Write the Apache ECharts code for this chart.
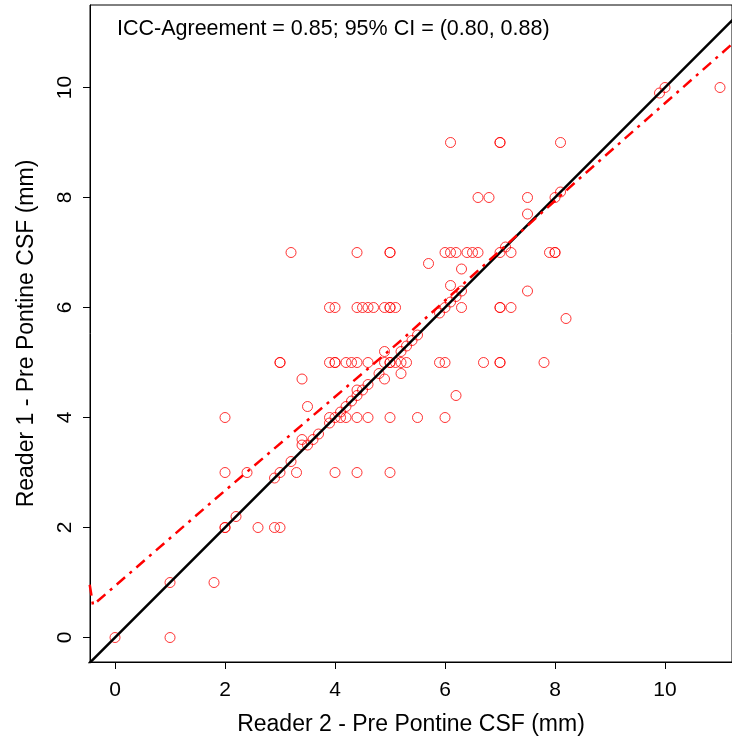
<!DOCTYPE html>
<html>
<head>
<meta charset="utf-8">
<script src="https://cdn.jsdelivr.net/npm/echarts@6/dist/echarts.min.js"></script>
<style>
html, body { margin: 0; padding: 0; background: #fff; }
#chart { width: 732px; height: 742px; }
</style>
</head>
<body>
<div id="chart"></div>
<script>
// Reader 2 (x) and Reader 1 (y) measurements, mm
const reader2 = [
  0, 1,
  1, 1.8,
  2, 2, 2.6, 2.9, 3, 2.2,
  2, 2.4, 3, 3.3, 4, 4.4, 5, 2.9, 3.2,
  3.4, 3.5, 3.4, 3.6, 3.7, 3.5, 3.4,
  2, 3.9, 4, 4.1, 4.2, 4.4, 4.6, 5, 5.5, 6,
  3.9, 4.1, 4.2, 4.3, 4.4, 4.4, 4.5, 4.6, 4.8, 4.9, 5.2, 6.2,
  3, 3, 3.9, 4, 4, 4.2, 4.3, 4.4, 4.6, 4.9, 5, 5, 5.1, 5.2, 5.3, 5.9, 6, 6.7, 7, 7, 7.8,
  4.9, 5.2, 5.3, 5.4, 5.5,
  8.2, 5.9,
  3.9, 4, 4.4, 4.5, 4.6, 4.7, 4.9, 5, 5, 5.1, 6, 6.3, 7, 7, 7.2,
  6.1, 6.2, 6.3, 7.5, 6.1, 6.3, 5.7,
  3.2, 4.4, 5, 5, 6, 6.1, 6.2, 6.4, 6.5, 6.6, 7, 7.2, 7.9, 8, 8, 7.1,
  7.5,
  6.6, 6.8, 7.5, 8, 8.1,
  6.1, 7, 7, 8.1,
  9.9, 10, 11
];
const reader1 = [
  0, 0,
  1, 1,
  2, 2, 2, 2, 2, 2.2,
  3, 3, 3, 3, 3, 3, 3, 2.9, 3.2,
  3.5, 3.5, 3.6, 3.6, 3.7, 4.2, 4.7,
  4, 4, 4, 4, 4, 4, 4, 4, 4, 4,
  3.9, 4.1, 4.2, 4.3, 4.4, 4.5, 4.5, 4.6, 4.8, 4.7, 4.8, 4.4,
  5, 5, 5, 5, 5, 5, 5, 5, 5, 5, 5, 5, 5, 5, 5, 5, 5, 5, 5, 5, 5,
  5.2, 5.2, 5.3, 5.4, 5.5,
  5.8, 5.9,
  6, 6, 6, 6, 6, 6, 6, 6, 6, 6, 6, 6, 6, 6, 6,
  6.1, 6.2, 6.3, 6.3, 6.4, 6.7, 6.8,
  7, 7, 7, 7, 7, 7, 7, 7, 7, 7, 7, 7, 7, 7, 7, 7.1,
  7.7,
  8, 8, 8, 8, 8.1,
  9, 9, 9, 9,
  9.9, 10, 10
];

// smoothed fit (red dash-dot)
const fitX = [-0.46, -0.4, 1.8, 5.2, 8.45, 11.22];
const fitY = [0.96, 0.59, 2.5, 5.4, 8.35, 10.79];

// line of identity
const identity = [-1, 12];

const tickValues = [0, 2, 4, 6, 8, 10];
const iccLabel = 'ICC-Agreement = 0.85; 95% CI = (0.80, 0.88)';
const xTitle = 'Reader 2 - Pre Pontine CSF (mm)';
const yTitle = 'Reader 1 - Pre Pontine CSF (mm)';

const font = '"Liberation Sans", Arial, sans-serif';

const chart = echarts.init(document.getElementById('chart'));

const axisCommon = {
  type: 'value',
  nameLocation: 'middle',
  nameTextStyle: { fontFamily: font, fontSize: 23, color: '#000' },
  axisLine: { show: true, onZero: false, lineStyle: { color: '#000', width: 1 } },
  axisTick: { show: true, length: 7, lineStyle: { color: '#000' }, customValues: tickValues },
  axisLabel: { fontFamily: font, fontSize: 21, color: '#000', customValues: tickValues },
  splitLine: { show: false }
};

chart.setOption({
  animation: false,
  backgroundColor: '#fff',
  grid: {
    left: 90, top: 5, right: 0, bottom: 80,
    show: true, borderColor: '#000', borderWidth: 1, backgroundColor: 'transparent'
  },
  graphic: [{
    type: 'text',
    left: 117,
    top: 18,
    style: { text: iccLabel, fontFamily: font, fontSize: 21.5, fill: '#000' }
  }],
  xAxis: Object.assign({}, axisCommon, {
    min: -0.455, max: 11.218,
    name: xTitle, nameGap: 51,
    axisLabel: Object.assign({}, axisCommon.axisLabel, { margin: 18 })
  }),
  yAxis: Object.assign({}, axisCommon, {
    min: -0.445, max: 11.5,
    name: yTitle, nameGap: 52,
    axisLabel: Object.assign({}, axisCommon.axisLabel, { rotate: 90, margin: 14 })
  }),
  series: [
    {
      type: 'scatter',
      symbol: 'circle',
      symbolSize: 10,
      itemStyle: { color: 'rgba(0,0,0,0)', borderColor: '#ff0000', borderWidth: 1 },
      data: reader2.map((x, i) => [x, reader1[i]]),
      z: 2
    },
    {
      type: 'line',
      showSymbol: false,
      clip: true,
      lineStyle: { color: '#000', width: 2.5 },
      data: identity.map(v => [v, v]),
      z: 3
    },
    {
      type: 'line',
      showSymbol: false,
      clip: true,
      lineStyle: { color: '#ff0000', width: 2.5, type: [11, 6, 3, 6] },
      data: fitX.map((x, i) => [x, fitY[i]]),
      z: 4
    }
  ]
});
</script>
</body>
</html>
